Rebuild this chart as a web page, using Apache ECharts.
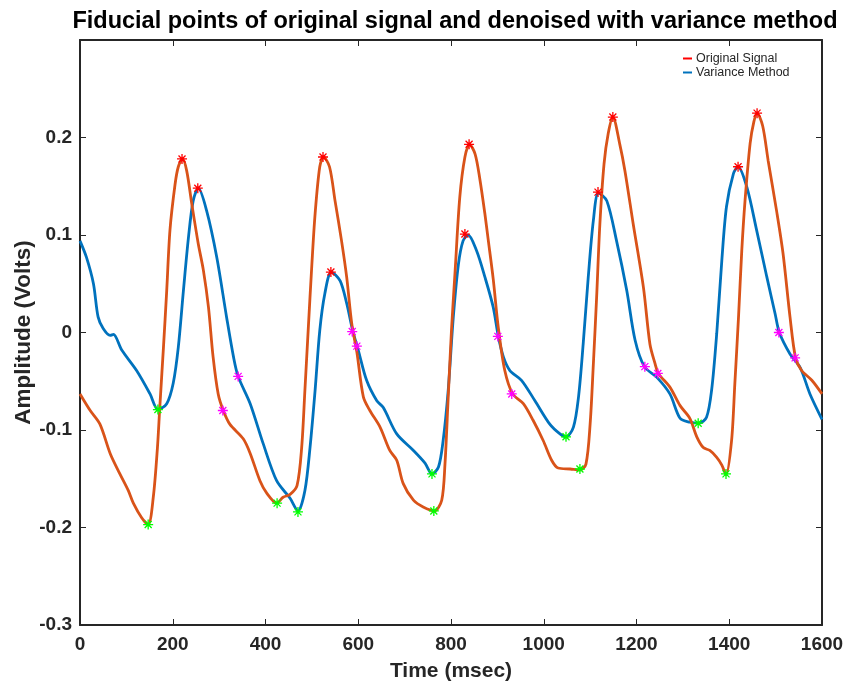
<!DOCTYPE html>
<html>
<head>
<meta charset="utf-8">
<title>Fiducial points</title>
<script src="https://cdn.jsdelivr.net/npm/echarts@6/dist/echarts.min.js"></script>
<style>
  html, body { margin: 0; padding: 0; background: #fff; }
  #chart { width: 847px; height: 683px; }
</style>
</head>
<body>
<div id="chart"></div>
<script>
// time axis ticks (msec)
var xTicks = [0, 200, 400, 600, 800, 1000, 1200, 1400, 1600]
var yTicks = [-0.3, -0.2, -0.1, 0, 0.1, 0.2, 0.3]

// original signal (orange line)
var origT = [0, 22, 43, 65, 86, 104, 115, 133, 147, 158, 167, 172, 180, 187, 194, 205, 212, 221, 230, 241,
  255, 266, 277, 287, 298, 309, 323, 352, 367, 388, 403, 424, 438, 453, 468, 478, 485, 492, 500, 507,
  517, 525, 538, 550, 564, 575, 586, 597, 611, 625, 647, 668, 683, 697, 719, 740, 764, 780, 787, 794,
  801, 809, 819, 830, 840, 852, 862, 873, 880, 891, 902, 916, 933, 956, 977, 999, 1017, 1031, 1057, 1078,
  1091, 1100, 1107, 1114, 1121, 1130, 1139, 1149, 1164, 1175, 1193, 1215, 1229, 1240, 1247, 1272, 1294, 1315, 1330, 1344,
  1358, 1373, 1384, 1393, 1405, 1412, 1420, 1427, 1434, 1445, 1453, 1460, 1472, 1484, 1502, 1516, 1531, 1543, 1556, 1578, 1600]
var origV = [-0.063, -0.080, -0.094, -0.124, -0.145, -0.162, -0.175, -0.190, -0.197, -0.169, -0.118, -0.077, -0.015, 0.043, 0.105, 0.152, 0.170, 0.178, 0.166, 0.132,
  0.091, 0.064, 0.026, -0.025, -0.063, -0.080, -0.094, -0.109, -0.124, -0.152, -0.165, -0.175, -0.169, -0.166, -0.157, -0.118, -0.059, 0.002, 0.070, 0.122,
  0.170, 0.180, 0.170, 0.135, 0.094, 0.057, 0.009, -0.020, -0.066, -0.080, -0.097, -0.121, -0.131, -0.155, -0.172, -0.179, -0.183, -0.172, -0.135, -0.066,
  0.002, 0.064, 0.139, 0.180, 0.193, 0.183, 0.158, 0.122, 0.096, 0.055, 0.005, -0.039, -0.063, -0.073, -0.090, -0.111, -0.131, -0.139, -0.140, -0.141,
  -0.135, -0.094, -0.032, 0.036, 0.111, 0.173, 0.204, 0.221, 0.193, 0.166, 0.111, 0.046, -0.012, -0.032, -0.042, -0.056, -0.075, -0.088, -0.107, -0.118,
  -0.121, -0.128, -0.136, -0.146, -0.111, -0.053, 0.016, 0.084, 0.135, 0.194, 0.216, 0.225, 0.212, 0.176, 0.125, 0.081, 0.016, -0.026, -0.039, -0.049, -0.063]

// denoised with variance method (blue line)
var varT = [0, 14, 29, 39, 50, 65, 72, 90, 122, 151, 168, 187, 201, 212, 223, 234, 244, 255, 273, 295,
  316, 331, 341, 367, 395, 424, 453, 470, 485, 496, 507, 517, 528, 542, 561, 575, 588, 600, 618, 640,
  654, 683, 719, 744, 759, 773, 783, 794, 805, 816, 826, 837, 855, 873, 891, 902, 913, 927, 952, 981,
  1013, 1035, 1048, 1064, 1075, 1085, 1096, 1107, 1118, 1136, 1157, 1179, 1197, 1217, 1244, 1272, 1294, 1315, 1335, 1351,
  1362, 1373, 1384, 1394, 1409, 1419, 1438, 1459, 1481, 1499, 1508, 1531, 1553, 1574, 1600]
var varV = [0.094, 0.077, 0.050, 0.016, 0.004, -0.003, -0.002, -0.018, -0.039, -0.063, -0.079, -0.073, -0.052, -0.015, 0.043, 0.098, 0.135, 0.148, 0.125, 0.077,
  0.016, -0.025, -0.045, -0.073, -0.114, -0.152, -0.170, -0.183, -0.162, -0.118, -0.059, 0.002, 0.040, 0.062, 0.053, 0.030, 0.002, -0.018, -0.049, -0.070,
  -0.077, -0.104, -0.121, -0.134, -0.145, -0.138, -0.111, -0.059, 0.016, 0.070, 0.094, 0.100, 0.084, 0.057, 0.026, -0.004, -0.025, -0.039, -0.049, -0.070,
  -0.094, -0.104, -0.107, -0.097, -0.066, -0.012, 0.057, 0.115, 0.143, 0.135, 0.094, 0.043, -0.008, -0.035, -0.046, -0.063, -0.088, -0.092, -0.093, -0.087,
  -0.059, -0.001, 0.074, 0.129, 0.163, 0.170, 0.149, 0.105, 0.057, 0.019, 0.000, -0.022, -0.036, -0.063, -0.089]

// fiducial points [time, amplitude]
var peakPts = [[220, 0.178], [254, 0.148], [524, 0.180], [541, 0.062], [839, 0.193], [830, 0.101],
  [1149, 0.221], [1117, 0.144], [1460, 0.225], [1419, 0.170]]
var footPts = [[147, -0.197], [168, -0.079], [425, -0.175], [470, -0.184], [759, -0.145], [763, -0.183],
  [1048, -0.107], [1078, -0.140], [1333, -0.093], [1393, -0.145]]
var notchPts = [[308, -0.080], [341, -0.045], [587, 0.001], [597, -0.014], [901, -0.004], [931, -0.063],
  [1218, -0.035], [1246, -0.042], [1507, 0.000], [1542, -0.026]]

function zip(t, v) {
  return t.map(function (x, i) { return [x, v[i]] })
}

var axisColor = '#262626'
var font = 'Liberation Sans, Arial, sans-serif'
// asterisk marker like matlab '*'
var star = 'path://M5,0L5,10M0,5L10,5M1.5,1.5L8.5,8.5M1.5,8.5L8.5,1.5'

function starSeries(data, color) {
  return {
    type: 'scatter',
    data: data,
    symbol: star,
    symbolSize: 10,
    z: 5,
    itemStyle: { color: 'rgba(0,0,0,0)', borderColor: color, borderWidth: 1.3, opacity: 1 }
  }
}

// box axes: line + inward ticks, no labels (matlab "box on")
function boxAxis(pos, range, step) {
  return {
    type: 'value',
    position: pos,
    min: range[0],
    max: range[range.length - 1],
    interval: step,
    axisLine: { onZero: false, lineStyle: { color: axisColor, width: 2 } },
    axisTick: { inside: true, length: 6, lineStyle: { color: axisColor } },
    axisLabel: { show: false },
    splitLine: { show: false }
  }
}

var chart = echarts.init(document.getElementById('chart'))
chart.setOption({
  animation: false,
  backgroundColor: '#fff',
  title: {
    text: 'Fiducial points of original signal and denoised with variance method',
    left: 450,
    textAlign: 'center',
    top: 5,
    textStyle: { fontSize: 23.5, fontWeight: 'bold', color: '#000', fontFamily: font }
  },
  legend: {
    orient: 'vertical',
    left: 680,
    top: 49,
    padding: [3, 30, 3, 3],
    itemGap: 1,
    itemWidth: 9,
    itemHeight: 2,
    icon: 'rect',
    backgroundColor: '#fff',
    data: ['Original Signal', 'Variance Method'],
    textStyle: { fontSize: 12.5, color: axisColor, fontFamily: font, padding: [0, 0, 0, -1] }
  },
  grid: { left: 80, right: 25, top: 40, bottom: 58, outerBoundsMode: 'none' },
  xAxis: [{
    type: 'value',
    min: xTicks[0],
    max: xTicks[xTicks.length - 1],
    interval: 200,
    name: 'Time (msec)',
    nameLocation: 'middle',
    nameGap: 36,
    nameTextStyle: { fontSize: 21, fontWeight: 'bold', color: axisColor, fontFamily: font },
    axisLine: { onZero: false, lineStyle: { color: axisColor, width: 2 } },
    axisTick: { inside: true, length: 6, lineStyle: { color: axisColor } },
    axisLabel: {
      fontSize: 19,
      fontWeight: 'bold',
      fontFamily: font,
      color: axisColor,
      margin: 10,
      formatter: function (v) { return String(v) }
    },
    splitLine: { show: false }
  }, boxAxis('top', xTicks, 200)],
  yAxis: [{
    type: 'value',
    min: yTicks[0],
    max: yTicks[yTicks.length - 1],
    interval: 0.1,
    name: 'Amplitude (Volts)',
    nameLocation: 'middle',
    nameMoveOverlap: false,
    nameGap: 45,
    nameTextStyle: { fontSize: 22.5, fontWeight: 'bold', color: axisColor, fontFamily: font },
    axisLine: { onZero: false, lineStyle: { color: axisColor, width: 2 } },
    axisTick: { inside: true, length: 6, lineStyle: { color: axisColor } },
    axisLabel: {
      fontSize: 19,
      fontWeight: 'bold',
      fontFamily: font,
      color: axisColor,
      margin: 8,
      showMaxLabel: false,
      formatter: function (v) { return String(+v.toFixed(1)) }
    },
    splitLine: { show: false }
  }, boxAxis('right', yTicks, 0.1)],
  series: [
    // legend entries (matlab legend picked the red marker)
    { name: 'Original Signal', type: 'line', data: [], color: '#ff0000' },
    {
      name: 'Variance Method',
      type: 'line',
      data: zip(varT, varV),
      color: '#0072BD',
      showSymbol: false,
      smooth: 0.3,
      lineStyle: { width: 2.8 }
    },
    {
      name: 'orig',
      type: 'line',
      data: zip(origT, origV),
      color: '#D95319',
      showSymbol: false,
      smooth: 0.3,
      lineStyle: { width: 2.8 }
    },
    starSeries(peakPts, '#ff0000'),
    starSeries(footPts, '#00ff00'),
    starSeries(notchPts, '#ff00ff')
  ]
})
</script>
</body>
</html>
